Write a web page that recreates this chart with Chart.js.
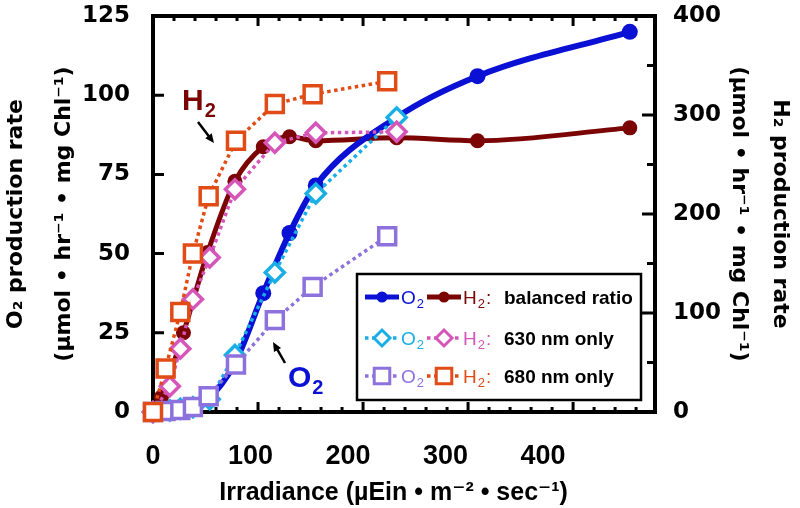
<!DOCTYPE html>
<html>
<head>
  <title>O2 and H2 production vs irradiance</title>
  <script src="https://cdn.jsdelivr.net/npm/chart.js@4.4.1/dist/chart.umd.min.js"></script>
  <style>
    body { margin: 0; background: #fff; }
    #wrap { width: 800px; height: 508px; }
  </style>
</head>
<body>
  <div id="wrap"><canvas id="prodChart"></canvas></div>

  <script>
    // irradiance (µEin m-2 s-1), O2 rates on the left axis, H2 rates on the right axis
    var irrBalanced = [0, 8, 29, 52, 78, 105, 130, 155, 232, 309, 454];
    var o2Balanced = [0, 0.3, 1, 4, 15.5, 37.5, 56.5, 71.5, 93, 106, 120];
    var h2Balanced = [0, 15, 80, 161, 233, 268, 278, 274, 277, 274, 287];

    var irr630 = [0, 16, 26, 38, 54, 78, 116, 155, 232];
    var o2_630 = [0, 0.5, 1, 1.5, 4, 18, 44, 69, 93];
    var h2_630 = [0, 26, 64, 114, 156, 225, 272, 282, 283];

    var irr680 = [0, 12, 26, 38, 53, 79, 116, 152, 223];
    var o2_680 = [0, 0.3, 0.6, 1.6, 5, 15, 29, 39.5, 55.5];
    var h2_680 = [0, 44, 101, 160, 218, 274, 311, 321, 334];

    var xTickLabels = [0, 100, 200, 300, 400];
    var legendNotes = ["balanced ratio", "630 nm only", "680 nm only"];

    var BLUE = "#0a10d4", DARKRED = "#7b0505", CYAN = "#1aaee6", PINK = "#d655b9", PURPLE = "#8d72dd", ORANGE = "#e04b16";
    var SANS = '"Liberation Sans", Arial, "DejaVu Sans", sans-serif';

    function pts(xs, ys) {
      return xs.map(function (x, i) { return { x: x, y: ys[i] }; });
    }

    function dotted(label, data, axis, color, style, radius) {
      return {
        label: label, data: data, xAxisID: "x", yAxisID: axis,
        borderColor: color, borderWidth: 3.5, borderDash: [3.5, 3.5], tension: 0,
        pointStyle: style, pointRadius: radius, pointBorderWidth: 3.5,
        pointBackgroundColor: "#fff", pointBorderColor: color, clip: false
      };
    }

    function solid(label, data, axis, color, width, radius) {
      return {
        label: label, data: data, xAxisID: "x", yAxisID: axis,
        borderColor: color, borderWidth: width, cubicInterpolationMode: "monotone",
        pointStyle: "circle", pointRadius: radius, pointBorderWidth: 0,
        pointBackgroundColor: color, pointBorderColor: color, clip: false
      };
    }

    // first dataset is drawn on top
    var datasets = [
      dotted("H2 680 nm", pts(irr680, h2_680), "y2", ORANGE, "rect", 12),
      dotted("O2 680 nm", pts(irr680, o2_680), "y", PURPLE, "rect", 12),
      dotted("H2 630 nm", pts(irr630, h2_630), "y2", PINK, "rectRot", 9.5),
      dotted("O2 630 nm", pts(irr630, o2_630), "y", CYAN, "rectRot", 9.5),
      solid("O2 balanced", pts(irrBalanced, o2Balanced), "y", BLUE, 6, 8),
      solid("H2 balanced", pts(irrBalanced, h2Balanced), "y2", DARKRED, 5, 7.5)
    ];

    // legend rows: [O2 dataset, H2 dataset, marker radius]
    var legendRows = [[4, 5, 5.5], [3, 2, 8], [1, 0, 11]];

    function marker(ctx, ds, x, y, r) {
      ctx.beginPath();
      if (ds.pointStyle === "circle") {
        ctx.arc(x, y, r, 0, 2 * Math.PI);
      } else if (ds.pointStyle === "rectRot") {
        ctx.moveTo(x - r, y); ctx.lineTo(x, y - r); ctx.lineTo(x + r, y); ctx.lineTo(x, y + r); ctx.closePath();
      } else {
        var h = r * Math.SQRT1_2;
        ctx.rect(x - h, y - h, 2 * h, 2 * h);
      }
      ctx.fillStyle = ds.pointBackgroundColor;
      ctx.fill();
      if (ds.pointBorderWidth) {
        ctx.lineWidth = ds.pointBorderWidth * 0.85;
        ctx.strokeStyle = ds.pointBorderColor;
        ctx.stroke();
      }
    }

    // text with a subscript, e.g. O + 2
    function chem(ctx, base, sub, tail, x, y, size, weight, color) {
      ctx.fillStyle = color;
      ctx.textAlign = "left";
      ctx.textBaseline = "alphabetic";
      ctx.font = weight + " " + size + "px " + SANS;
      ctx.fillText(base, x, y);
      x += ctx.measureText(base).width + 1;
      ctx.font = weight + " " + Math.round(size * 0.68) + "px " + SANS;
      ctx.fillText(sub, x, y + size * 0.22);
      x += ctx.measureText(sub).width;
      if (tail) {
        ctx.font = weight + " " + size + "px " + SANS;
        ctx.fillText(tail, x + 1, y);
        x += ctx.measureText(tail).width + 1;
      }
      return x;
    }

    function arrow(ctx, x1, y1, x2, y2) {
      var ang = Math.atan2(y2 - y1, x2 - x1), hl = 10;
      ctx.strokeStyle = "#000";
      ctx.fillStyle = "#000";
      ctx.lineWidth = 2.5;
      ctx.beginPath();
      ctx.moveTo(x1, y1);
      ctx.lineTo(x2 - Math.cos(ang) * hl * 0.6, y2 - Math.sin(ang) * hl * 0.6);
      ctx.stroke();
      ctx.beginPath();
      ctx.moveTo(x2, y2);
      ctx.lineTo(x2 - hl * Math.cos(ang - 0.42), y2 - hl * Math.sin(ang - 0.42));
      ctx.lineTo(x2 - hl * Math.cos(ang + 0.42), y2 - hl * Math.sin(ang + 0.42));
      ctx.closePath();
      ctx.fill();
    }

    // box frame with inward ticks on all four sides
    var frameTicks = {
      id: "frameTicks",
      beforeDatasetsDraw: function (chart) {
        var ctx = chart.ctx, a = chart.chartArea;
        var sx = chart.scales.x, sy = chart.scales.y, sy2 = chart.scales.y2;
        var v, p, len;
        ctx.save();
        ctx.strokeStyle = "#000";
        ctx.lineWidth = 3;
        ctx.beginPath();
        for (v = 20; v < sx.max; v += 20) {
          p = sx.getPixelForValue(v);
          len = v % 100 === 0 ? 10 : 5;
          ctx.moveTo(p, a.top); ctx.lineTo(p, a.top + len);
          ctx.moveTo(p, a.bottom); ctx.lineTo(p, a.bottom - len);
        }
        for (v = 25; v < sy.max; v += 25) {
          p = sy.getPixelForValue(v);
          ctx.moveTo(a.left, p); ctx.lineTo(a.left + 11, p);
        }
        for (v = 50; v < sy2.max; v += 50) {
          p = sy2.getPixelForValue(v);
          len = v % 100 === 0 ? 13 : 8;
          ctx.moveTo(a.right, p); ctx.lineTo(a.right - len, p);
        }
        ctx.stroke();
        ctx.lineWidth = 4;
        ctx.strokeRect(a.left, a.top, a.right - a.left, a.bottom - a.top);
        ctx.restore();
      }
    };

    var legendAndNotes = {
      id: "legendAndNotes",
      afterDatasetsDraw: function (chart) {
        var ctx = chart.ctx, a = chart.chartArea;
        var ds = chart.data.datasets;
        ctx.save();

        // legend box
        var bx = a.left + 204, by = a.top + 258, bw = 284, bh = 126;
        ctx.fillStyle = "#fff";
        ctx.fillRect(bx, by, bw, bh);
        ctx.strokeStyle = "#000";
        ctx.lineWidth = 2.5;
        ctx.strokeRect(bx, by, bw, bh);

        var rowY = [by + 23, by + 64, by + 102];
        legendRows.forEach(function (row, i) {
          var y = rowY[i];
          [[row[0], bx + 8, "O", ""], [row[1], bx + 70, "H", ":"]].forEach(function (item) {
            var d = ds[item[0]], x0 = item[1];
            ctx.save();
            ctx.strokeStyle = d.borderColor;
            ctx.lineWidth = Math.min(d.borderWidth, 5);
            ctx.setLineDash(d.borderDash || []);
            ctx.beginPath();
            ctx.moveTo(x0, y);
            ctx.lineTo(x0 + 34, y);
            ctx.stroke();
            ctx.restore();
            marker(ctx, d, x0 + 17, y, row[2]);
            chem(ctx, item[2], "2", item[3], x0 + 36, y + 7, 19, "normal", d.borderColor);
          });
          ctx.fillStyle = "#000";
          ctx.font = "bold 19px " + SANS;
          ctx.textAlign = "left";
          ctx.textBaseline = "alphabetic";
          ctx.fillText(legendNotes[i], bx + 147, y + 7);
        });

        // curve labels with arrows
        chem(ctx, "H", "2", "", a.left + 29, a.top + 94, 30, "bold", DARKRED);
        arrow(ctx, a.left + 45, a.top + 106, a.left + 61, a.top + 127);
        chem(ctx, "O", "2", "", a.left + 135, a.top + 371, 30, "bold", BLUE);
        arrow(ctx, a.left + 132, a.top + 347, a.left + 120, a.top + 326);

        ctx.restore();
      }
    };

    var tickFont = { family: "DejaVu Sans", weight: "bold", size: 23 };

    function fixWidth(w) {
      return function (s) { s.width = w; s.paddingTop = 0; s.paddingBottom = 0; };
    }

    new Chart(document.getElementById("prodChart"), {
      type: "line",
      data: { datasets: datasets },
      options: {
        responsive: true,
        maintainAspectRatio: false,
        animation: false,
        events: [],
        layout: { padding: { top: 16 } },
        plugins: { legend: { display: false }, tooltip: { enabled: false } },
        scales: {
          x: { type: "linear", display: false, min: 0, max: 478 },
          xl: {
            type: "linear", position: "bottom", min: 0, max: 515,
            grid: { display: false }, border: { display: false },
            ticks: {
              stepSize: 100, padding: 20, color: "#000",
              font: { family: SANS, weight: "bold", size: 27 },
              callback: function (v) { return xTickLabels.indexOf(v) >= 0 ? String(v) : ""; }
            },
            title: {
              display: true, text: "Irradiance (µEin • m⁻² • sec⁻¹)\u00a0\u00a0\u00a0", color: "#000",
              font: { family: SANS, weight: "bold", size: 25 }, padding: { top: 0, bottom: 0 }
            },
            afterFit: function (s) { s.height = 96; s.paddingLeft = 0; s.paddingRight = 0; }
          },
          y: {
            position: "left", min: 0, max: 125,
            grid: { display: false }, border: { display: false },
            ticks: { stepSize: 25, padding: 15, color: "#000", font: tickFont },
            title: {
              display: true, text: ["O₂ production rate", "(µmol • hr⁻¹ • mg Chl⁻¹)"], color: "#000",
              font: { family: "DejaVu Sans", weight: "bold", size: 22, lineHeight: "48px" }, padding: { top: -8, bottom: 0 }
            },
            afterFit: fixWidth(153)
          },
          y2: {
            position: "right", min: 0, max: 400,
            grid: { display: false }, border: { display: false },
            ticks: { stepSize: 100, padding: 10, color: "#000", font: tickFont },
            title: {
              display: true, text: ["H₂ production rate", "(µmol • hr⁻¹ • mg Chl⁻¹)"], color: "#000",
              font: { family: "DejaVu Sans", weight: "bold", size: 22, lineHeight: "41px" }, padding: { top: 0, bottom: 0 }
            },
            afterFit: fixWidth(145)
          }
        }
      },
      plugins: [frameTicks, legendAndNotes]
    });
  </script>
</body>
</html>
